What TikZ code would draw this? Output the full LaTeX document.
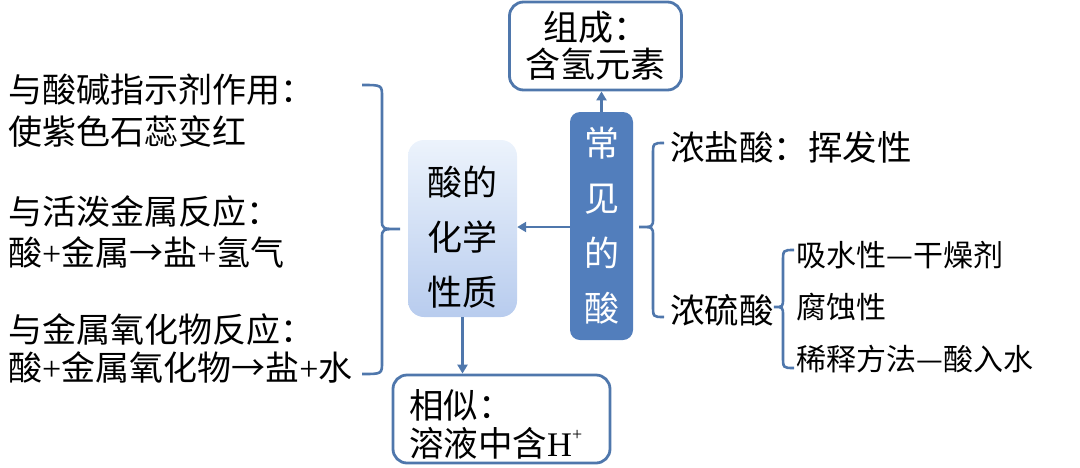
\documentclass[tikz,border=0pt]{standalone}
\usepackage{fontspec}
\newfontfamily\cjk{Noto Sans CJK SC}
\newfontfamily\lat{Liberation Serif}
\usetikzlibrary{arrows.meta}
\definecolor{lineblue}{RGB}{79,119,172}
\definecolor{darkfill}{RGB}{82,126,188}
\definecolor{gradtop}{RGB}{236,243,252}
\definecolor{gradbot}{RGB}{184,204,238}
% #1 end x, #2 line x, #3 tip x, #4 top y, #5 tip y, #6 bottom y
\newcommand\drawbrace[6]{%
  \draw[brc] (#1,#4) .. controls (#2,#4) and (#2,#4) .. (#2,#4+12)
    -- (#2,#5-9) .. controls (#2,#5) .. (#3,#5)
    .. controls (#2,#5) .. (#2,#5+9)
    -- (#2,#6-12) .. controls (#2,#6) and (#2,#6) .. (#1,#6);}
\begin{document}
\begin{tikzpicture}[x=1pt,y=-1pt,
  outline/.style={draw=lineblue, line width=2.8pt, rounded corners=14pt, fill=white},
  darkbox/.style={fill=darkfill, rounded corners=10pt, text=white, align=center,
     font=\cjk\fontsize{35}{55}\selectfont, inner sep=0pt},
  gradbox/.style={top color=gradtop, bottom color=gradbot, rounded corners=16pt, inner sep=0pt},
  txt/.style={font=\cjk\fontsize{34}{34}\selectfont, inner sep=0pt, anchor=west},
  txtb/.style={font=\cjk\fontsize{34.5}{34.5}\selectfont, inner sep=0pt, anchor=west},
  txts/.style={font=\cjk\fontsize{30}{30}\selectfont, inner sep=0pt, anchor=west},
  arr/.style={draw=lineblue, line width=2.5pt, -{Triangle[length=9pt,width=10pt]}},
  brc/.style={draw=lineblue, line width=2.6pt}
]
\useasboundingbox (0,0) rectangle (1080,467);

% boxes
\node[outline, minimum width=172pt, minimum height=88pt, align=center,
      font=\cjk\fontsize{35}{37}\selectfont, inner sep=0pt] (comp) at (595.5,46) {组成：\\含氢元素};
\node[darkbox, minimum width=63pt, minimum height=228pt] (common) at (601.5,226) {常\\见\\的\\酸};
\node[gradbox, minimum width=109pt, minimum height=177pt] (chem) at (462.5,228.5) {};
\node[align=center, font=\cjk\fontsize{35}{55}\selectfont, inner sep=0pt] (chemtxt) at (462.5,237) {酸的\\化学\\性质};
\node[outline, minimum width=217pt, minimum height=88pt] (sim) at (501.5,419) {};
\node[txtb] (sim1) at (409,405) {相似：};
\node[txtb] (sim2) at (409,443) {溶液中含{\lat H}\raisebox{0.45em}{\lat\fontsize{18}{18}\selectfont +}};

% arrows
\draw[arr] (common.north) -- (common.north |- comp.south);
\draw[arr] (common.west |- 0,227) -- (chem.east |- 0,227);
\draw[arr] (chem.south) -- (chem.south |- sim.north);

% left texts
\node[txt] (l1) at (8,90) {与酸碱指示剂作用：};
\node[txt] (l2) at (8,131) {使紫色石蕊变红};
\node[txt] (l3) at (8,212) {与活泼金属反应：};
\node[txt] (l4) at (8,252) {酸{\lat +}金属→盐{\lat +}氢气};
\node[txt] (l5) at (8,330) {与金属氧化物反应：};
\node[txt] (l6) at (8,367) {酸{\lat +}金属氧化物→盐{\lat +}水};

% left brace
\drawbrace{362}{382}{400}{85}{229}{374}

% right side
\node[txtb] (hcl) at (670,147) {浓盐酸：挥发性};
\node[txtb] (h2so4) at (670,310) {浓硫酸};
\drawbrace{664}{653}{639}{143}{227}{317}

\node[txts] (s1) at (796,255) {吸水性—干燥剂};
\node[txts] (s2) at (796,307) {腐蚀性};
\node[txts] (s3) at (796,359) {稀释方法—酸入水};
\drawbrace{794}{783}{774}{250}{307}{368}
\end{tikzpicture}
\end{document}
